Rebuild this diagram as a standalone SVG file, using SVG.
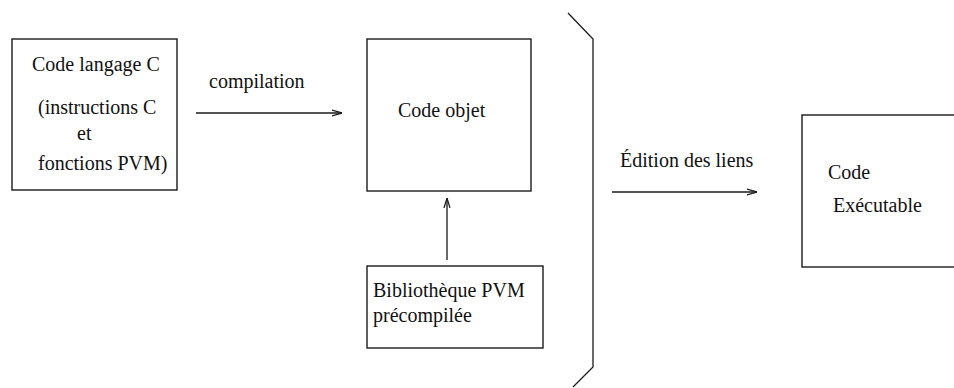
<svg xmlns="http://www.w3.org/2000/svg" width="954" height="388" viewBox="0 0 954 388">
  <style>
    .box { fill: none; stroke: #1a1a1a; stroke-width: 1.4; }
    .lbl { font-family: "Liberation Serif", "Times New Roman", serif; font-size: 20px; fill: #111; }
    .wire { fill: none; stroke: #1a1a1a; stroke-width: 1.3; }
  </style>
  <defs>
    <marker id="head" viewBox="0 0 10 8" refX="10" refY="4" markerWidth="10" markerHeight="8" markerUnits="userSpaceOnUse" orient="auto">
      <path d="M0,1 L10,4 L0,7" fill="none" stroke="#1a1a1a" stroke-width="1.2"/>
    </marker>
  </defs>
  <rect width="954" height="388" fill="#fff"/>

  <g id="source">
    <rect class="box" x="12" y="39" width="165" height="151"/>
    <text class="lbl" x="32" y="71">Code langage C</text>
    <text class="lbl" x="38" y="114">(instructions C</text>
    <text class="lbl" x="77" y="140">et</text>
    <text class="lbl" x="38" y="170">fonctions PVM)</text>
  </g>

  <g id="objet">
    <rect class="box" x="367" y="39" width="164" height="152"/>
    <text class="lbl" x="398" y="117">Code objet</text>
  </g>

  <g id="bibliotheque">
    <rect class="box" x="367" y="266" width="176" height="82"/>
    <text class="lbl" x="373" y="297">Bibliothèque PVM</text>
    <text class="lbl" x="373" y="322">précompilée</text>
  </g>

  <g id="executable">
    <rect class="box" x="802" y="115" width="160" height="152"/>
    <text class="lbl" x="828" y="179">Code</text>
    <text class="lbl" x="833" y="212">Exécutable</text>
  </g>

  <g id="connectors">
    <line class="wire" x1="196" y1="113" x2="342" y2="113" marker-end="url(#head)"/>
    <text class="lbl" x="209" y="88">compilation</text>
    <line class="wire" x1="447" y1="260" x2="447" y2="198" marker-end="url(#head)"/>
    <polyline class="wire" points="568,13 593,39 593,367 573,387"/>
    <line class="wire" x1="612" y1="192" x2="757" y2="192" marker-end="url(#head)"/>
    <text class="lbl" x="620" y="167">Édition des liens</text>
  </g>
</svg>
